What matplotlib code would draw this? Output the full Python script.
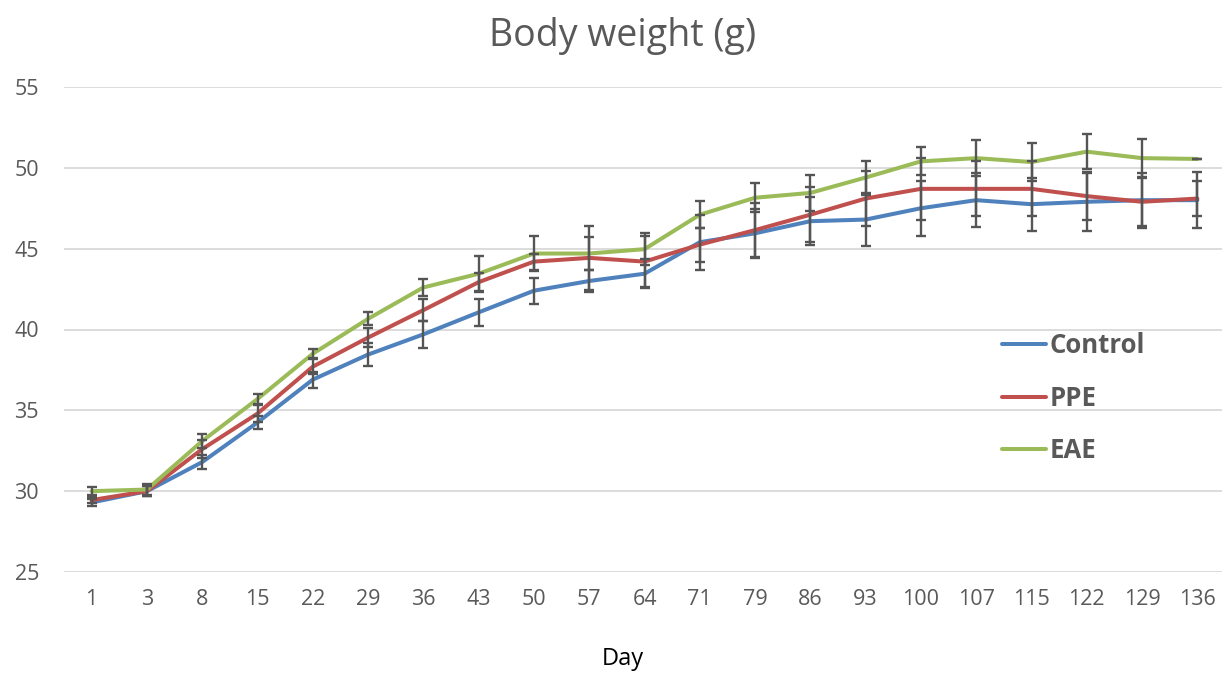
import matplotlib
matplotlib.use("Agg")
import matplotlib.pyplot as plt
import numpy as np

# days (categorical x axis)
days = ["1", "3", "8", "15", "22", "29", "36", "43", "50", "57", "64",
        "71", "79", "86", "93", "100", "107", "115", "122", "129", "136"]

control = [29.3, 30.0, 31.8, 34.25, 36.9, 38.45, 39.7, 41.06, 42.4, 43.0, 43.45,
           45.4, 45.95, 46.7, 46.8, 47.5, 48.0, 47.75, 47.9, 48.0, 48.0]
ppe = [29.45, 30.0, 32.6, 34.8, 37.7, 39.5, 41.2, 42.93, 44.2, 44.43, 44.2,
       45.25, 46.15, 47.1, 48.1, 48.7, 48.7, 48.7, 48.25, 47.9, 48.1]
eae = [30.0, 30.1, 33.1, 35.7, 38.5, 40.66, 42.6, 43.45, 44.7, 44.7, 44.97,
       47.1, 48.15, 48.45, 49.4, 50.4, 50.6, 50.36, 51.0, 50.6, 50.55]

control_err = [0.2, 0.3, 0.45, 0.4, 0.5, 0.7, 0.85, 0.85, 0.8, 0.7, 0.9,
               1.7, 1.5, 1.5, 1.65, 1.7, 1.65, 1.65, 1.8, 1.7, 1.75]
ppe_err = [0.2, 0.3, 0.55, 0.5, 0.45, 0.6, 0.7, 0.55, 0.5, 2.0, 1.6,
           1.05, 1.65, 1.7, 1.7, 1.9, 1.7, 1.7, 1.5, 1.5, 1.1]
eae_err = [0.25, 0.35, 0.45, 0.3, 0.28, 0.4, 0.55, 1.1, 1.1, 1.0, 0.97,
           0.85, 0.9, 1.1, 1.05, 0.86, 1.1, 1.17, 1.1, 1.18, 0.0]

series = [
    ("Control", control, control_err, "#4F81BD"),
    ("PPE", ppe, ppe_err, "#C0504D"),
    ("EAE", eae, eae_err, "#9BBB59"),
]

TEXT = "#595959"
FONT = "Open Sans"
plt.rcParams["font.family"] = [FONT, "DejaVu Sans"]

W, H = 1222, 673
fig = plt.figure(figsize=(W / 100, H / 100), dpi=100)
ax = fig.add_axes([64 / W, 1 - 572 / H, (1225 - 64) / W, (572 - 87) / H])

x = np.arange(len(days))
handles = []
for name, vals, err, color in series:
    line, = ax.plot(x, vals, color=color, linewidth=2.9, label=name,
                    solid_capstyle="round", zorder=3)
    handles.append(line)
# error bars sit on top of the lines, like in the original
for name, vals, err, color in series:
    ax.errorbar(x, vals, yerr=err, fmt="none", ecolor="#555555",
                elinewidth=1.7, capsize=3.5, capthick=1.7, zorder=4)

ax.set_xlim(-0.5, 20.5)
ax.set_ylim(25, 55)
ax.set_yticks(np.arange(25, 56, 5))
ax.set_xticks(x)
ax.set_xticklabels(days)
ax.grid(axis="y", color="#D9D9D9", linewidth=1.3, zorder=0)
ax.set_axisbelow(True)
for s in ax.spines.values():
    s.set_visible(False)
ax.tick_params(axis="both", length=0, labelsize=15.5, labelcolor=TEXT)
ax.tick_params(axis="x", pad=12)
ax.tick_params(axis="y", pad=18)

fig.text(623 / W, 1 - 46 / H, "Body weight (g)", ha="center", va="baseline",
         fontsize=27, color=TEXT)
fig.text(623 / W, 1 - 665 / H, "Day", ha="center", va="baseline",
         fontsize=17, color="black")

leg = ax.legend(handles=handles, loc="upper left",
                bbox_to_anchor=(1002 / W, 1 - 332 / H),
                bbox_transform=fig.transFigure, frameon=False,
                prop={"family": FONT, "weight": "bold", "size": 18.5},
                handlelength=1.7, handletextpad=0.15, labelspacing=1.0,
                borderpad=0, borderaxespad=0)
for t in leg.get_texts():
    t.set_color(TEXT)

fig.savefig("out.png", dpi=100, facecolor="white")
